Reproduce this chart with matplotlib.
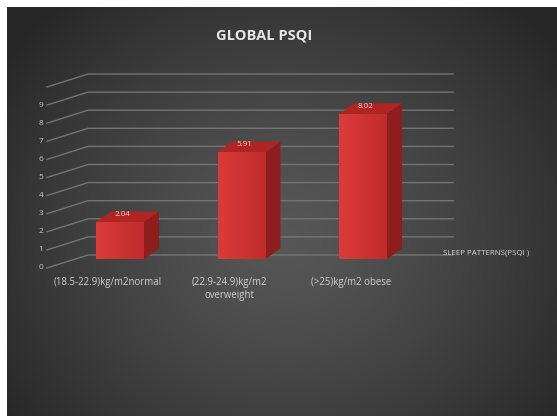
import numpy as np
import matplotlib
matplotlib.use("Agg")
import matplotlib.pyplot as plt
from matplotlib.patches import Rectangle, Polygon

# PSQI scores per BMI group
categories = ["(18.5-22.9)kg/m2normal", "(22.9-24.9)kg/m2\noverweight", "(>25)kg/m2 obese"]
psqi = [2.04, 5.91, 8.02]
yticks = list(range(0, 10))
series_name = "SLEEP PATTERNS(PSQI )"
title = "GLOBAL PSQI"

plt.rcParams['font.family'] = ['Open Sans', 'DejaVu Sans']

W, H = 557, 416
fig = plt.figure(figsize=(W / 100, H / 100), dpi=100, facecolor="white")

# dark panel with a soft radial glow
bg = fig.add_axes([7 / W, 0, (W - 7) / W, (H - 7) / H])
bg.set_axis_off()
yy, xx = np.mgrid[0:409, 0:550]
r = np.sqrt(((xx - 278) / 320.0) ** 2 + ((yy - 230) / 290.0) ** 2)
shade = np.clip(0.34 - 0.17 * r ** 1.3, 0.155, 0.35)
bg.imshow(np.dstack([shade] * 3), aspect="auto", extent=(0, 1, 0, 1), interpolation="bilinear")
bg.set_xlim(0, 1)
bg.set_ylim(0, 1)

# plotting axes: x = category index, y = PSQI value
ax = fig.add_axes([59.25 / W, 157 / H, 364.5 / W, 181 / H])
ax.set_xlim(-0.5, 2.5)
ax.set_ylim(0, 10)
ax.set_axis_off()
ax.patch.set_alpha(0)

grid_c = "#747474"
front_x, back_x, right_x = -0.601, -0.263, 2.741
front_dy, back_dy = -0.497, 0.221
for v in yticks + [10]:
    ax.plot([front_x, back_x, right_x], [v + front_dy, v + back_dy, v + back_dy],
            color=grid_c, lw=1.0, clip_on=False, zorder=1)
for v in yticks:
    ax.text(front_x - 0.03, v + front_dy, str(v), color="#cccccc", fontsize=6,
            ha="right", va="center", clip_on=False)

# 3D-looking columns
w, ddx, ddy = 0.395, 0.123, 0.58
for i, v in enumerate(psqi):
    x0, x1 = i - w / 2, i + w / 2
    side = Polygon([(x1, 0), (x1 + ddx, ddy), (x1 + ddx, v + ddy), (x1, v)],
                   closed=True, facecolor="#8e1d1d", edgecolor="none", zorder=3)
    top = Polygon([(x0, v), (x1, v), (x1 + ddx, v + ddy), (x0 + ddx, v + ddy)],
                  closed=True, facecolor="#b02424", edgecolor="none", zorder=3)
    front = Rectangle((x0, 0), w, v, facecolor="#d03030", edgecolor="none", zorder=4)
    ax.add_patch(side)
    ax.add_patch(top)
    ax.add_patch(front)
    grad = np.linspace(0, 1, 64)
    cols = np.zeros((1, 64, 3))
    cols[0, :, 0] = 0.86 - 0.10 * grad
    cols[0, :, 1] = 0.23 - 0.06 * grad
    cols[0, :, 2] = 0.23 - 0.06 * grad
    im = ax.imshow(cols, extent=(x0, x1, 0, v), aspect="auto", zorder=4.5,
                   interpolation="bilinear")
    im.set_clip_path(front)
    ax.text(i + 0.02, v + 0.42, f"{v:.2f}", color="#f2d0d0", fontsize=5.8,
            ha="center", va="center", zorder=6)
    ax.text(i - 0.1, -0.99, categories[i], color="#d0d0d0", fontsize=6.9,
            ha="center", va="top", linespacing=1.3, clip_on=False)

ax.set_xlim(-0.5, 2.5)
ax.set_ylim(0, 10)

ax.text(2.66, 0.33, series_name, color="#d8d8d8", fontsize=5.7,
        ha="left", va="center", clip_on=False)

fig.text(264 / W, 1 - 35 / H, title, color="#e6e6e6", fontsize=10.5,
         fontweight="bold", ha="center", va="center")

fig.savefig("out.png", dpi=100, facecolor=fig.get_facecolor())
